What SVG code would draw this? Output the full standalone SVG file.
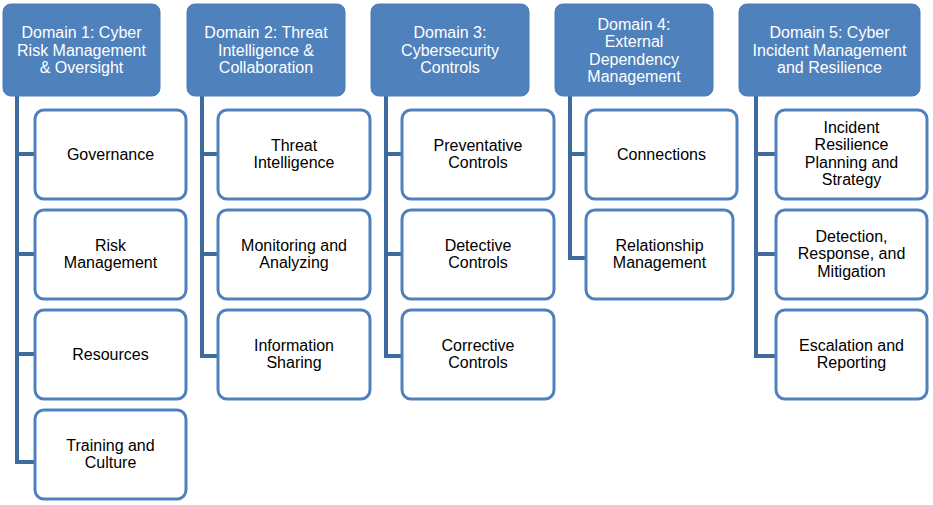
<svg xmlns="http://www.w3.org/2000/svg" width="933" height="505" viewBox="0 0 933 505">
<style>
.h{fill:#4f81bd;stroke:#4a7ab5;stroke-width:1}
.c{fill:#fff;stroke:#4f81bd;stroke-width:3}
.ht{font-family:"Liberation Sans",Arial,sans-serif;font-size:16px;fill:#fff;text-anchor:middle}
.ct{font-family:"Liberation Sans",Arial,sans-serif;font-size:16px;fill:#000;text-anchor:middle}
.l{stroke:#3f6a9e;stroke-width:4;fill:none}
</style>
<rect width="933" height="505" fill="#fff"/>
<g id="connectors">
<path class="l" d="M17 96V462H37M17 154H37M17 254H37M17 354H37"/>
<path class="l" d="M202 96V356H220M202 154H220M202 254H220"/>
<path class="l" d="M386 96V356H404M386 154H404M386 254H404"/>
<path class="l" d="M570 96V258H588M570 154H588"/>
<path class="l" d="M756 96V356H778M756 154H778M756 254H778"/>
</g>
<g id="d1"><rect class="h" x="3" y="4" width="157" height="92" rx="8"/><text class="ht" x="81.5"><tspan x="81.5" y="38">Domain 1: Cyber</tspan><tspan x="81.5" y="56">Risk Management</tspan><tspan x="81.5" y="73">&amp; Oversight</tspan></text></g>
<g id="d2"><rect class="h" x="187" y="4" width="158" height="92" rx="8"/><text class="ht"><tspan x="266" y="38">Domain 2: Threat</tspan><tspan x="266" y="56">Intelligence &amp;</tspan><tspan x="266" y="73">Collaboration</tspan></text></g>
<g id="d3"><rect class="h" x="371" y="4" width="158" height="92" rx="8"/><text class="ht"><tspan x="450" y="38">Domain 3:</tspan><tspan x="450" y="56">Cybersecurity</tspan><tspan x="450" y="73">Controls</tspan></text></g>
<g id="d4"><rect class="h" x="555" y="4" width="158" height="92" rx="8"/><text class="ht"><tspan x="634" y="30">Domain 4:</tspan><tspan x="634" y="47">External</tspan><tspan x="634" y="65">Dependency</tspan><tspan x="634" y="82">Management</tspan></text></g>
<g id="d5"><rect class="h" x="739" y="4" width="181" height="92" rx="8"/><text class="ht"><tspan x="829.5" y="38">Domain 5: Cyber</tspan><tspan x="829.5" y="56">Incident Management</tspan><tspan x="829.5" y="73">and Resilience</tspan></text></g>

<g id="c11"><rect class="c" x="35" y="110" width="151" height="89" rx="9"/><text class="ct" x="110.5" y="160">Governance</text></g>
<g id="c12"><rect class="c" x="35" y="210" width="151" height="89" rx="9"/><text class="ct"><tspan x="110.5" y="251">Risk</tspan><tspan x="110.5" y="268">Management</tspan></text></g>
<g id="c13"><rect class="c" x="35" y="310" width="151" height="89" rx="9"/><text class="ct" x="110.5" y="360">Resources</text></g>
<g id="c14"><rect class="c" x="35" y="410" width="151" height="89" rx="9"/><text class="ct"><tspan x="110.5" y="451">Training and</tspan><tspan x="110.5" y="468">Culture</tspan></text></g>

<g id="c21"><rect class="c" x="218" y="110" width="152" height="89" rx="9"/><text class="ct"><tspan x="294" y="151">Threat</tspan><tspan x="294" y="168">Intelligence</tspan></text></g>
<g id="c22"><rect class="c" x="218" y="210" width="152" height="89" rx="9"/><text class="ct"><tspan x="294" y="251">Monitoring and</tspan><tspan x="294" y="268">Analyzing</tspan></text></g>
<g id="c23"><rect class="c" x="218" y="310" width="152" height="89" rx="9"/><text class="ct"><tspan x="294" y="351">Information</tspan><tspan x="294" y="368">Sharing</tspan></text></g>

<g id="c31"><rect class="c" x="402" y="110" width="152" height="89" rx="9"/><text class="ct"><tspan x="478" y="151">Preventative</tspan><tspan x="478" y="168">Controls</tspan></text></g>
<g id="c32"><rect class="c" x="402" y="210" width="152" height="89" rx="9"/><text class="ct"><tspan x="478" y="251">Detective</tspan><tspan x="478" y="268">Controls</tspan></text></g>
<g id="c33"><rect class="c" x="402" y="310" width="152" height="89" rx="9"/><text class="ct"><tspan x="478" y="351">Corrective</tspan><tspan x="478" y="368">Controls</tspan></text></g>

<g id="c41"><rect class="c" x="586" y="110" width="151" height="89" rx="9"/><text class="ct" x="661.5" y="160">Connections</text></g>
<g id="c42"><rect class="c" x="586" y="210" width="147" height="89" rx="9"/><text class="ct"><tspan x="659.5" y="251">Relationship</tspan><tspan x="659.5" y="268">Management</tspan></text></g>

<g id="c51"><rect class="c" x="776" y="110" width="151" height="89" rx="9"/><text class="ct"><tspan x="851.5" y="133">Incident</tspan><tspan x="851.5" y="150">Resilience</tspan><tspan x="851.5" y="168">Planning and</tspan><tspan x="851.5" y="185">Strategy</tspan></text></g>
<g id="c52"><rect class="c" x="776" y="210" width="151" height="89" rx="9"/><text class="ct"><tspan x="851.5" y="242">Detection,</tspan><tspan x="851.5" y="259">Response, and</tspan><tspan x="851.5" y="277">Mitigation</tspan></text></g>
<g id="c53"><rect class="c" x="776" y="310" width="151" height="89" rx="9"/><text class="ct"><tspan x="851.5" y="351">Escalation and</tspan><tspan x="851.5" y="368">Reporting</tspan></text></g>
</svg>
